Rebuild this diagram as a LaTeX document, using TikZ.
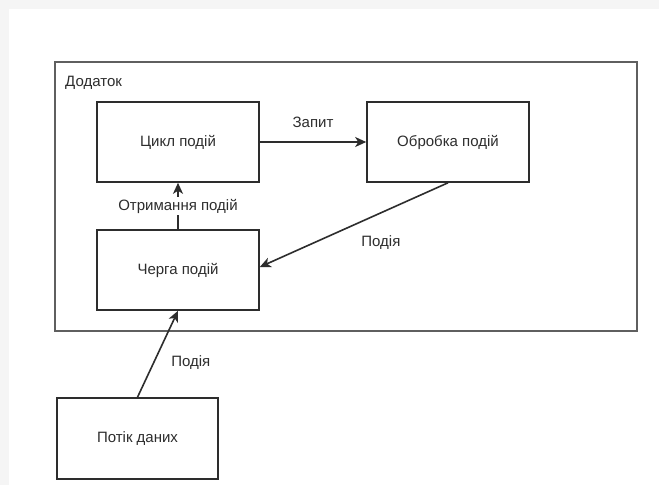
\documentclass[tikz,border=0pt]{standalone}
\usepackage{fontspec}
\setmainfont{Liberation Sans}
\usetikzlibrary{arrows.meta}
\definecolor{pagegray}{RGB}{245,245,245}
\definecolor{ink}{RGB}{45,45,45}
\definecolor{framegray}{RGB}{95,95,95}
\tikzset{
  block/.style={draw=ink, line width=1.6pt, fill=white, minimum width=162pt,
    minimum height=80pt, inner sep=0pt, font=\fontsize{15}{17}\selectfont, text=ink},
  flow/.style={draw=ink, line width=1.6pt,
    -{Stealth[length=11pt,width=10pt,inset=3pt]}},
  tag/.style={font=\fontsize{15}{17}\selectfont, text=ink, inner sep=1pt}
}
\begin{document}
\begin{tikzpicture}[x=1pt, y=-1pt]
  % page background with a light band along the top and left
  \fill[pagegray] (0,0) rectangle (659,485);
  \fill[white] (9,9) rectangle (659,485);
  \useasboundingbox (0,0) rectangle (659,485);

  % application container
  \draw[framegray, line width=2pt] (55,61.5) rectangle (636.5,330.5);
  \node[tag, anchor=west] (apptitle) at (64,83) {Додаток};

  % blocks
  \node[block] (loop)   at (178,142)   {Цикл подій};
  \node[block] (proc)   at (448,142)   {Обробка подій};
  \node[block] (queue)  at (178,270)   {Черга подій};
  \node[block, minimum width=161pt, minimum height=81pt] (stream) at (137.5,438.5) {Потік даних};

  % connectors
  \draw[flow] (loop.east) -- (proc.west)
    node[tag, midway, yshift=20pt] (lblreq) {Запит};
  \draw[flow] (proc.south) -- ([yshift=3pt]queue.east)
    node[tag, midway, xshift=27pt, yshift=-18pt] (lblev1) {Подія};
  \draw[flow] (queue.north) -- (loop.south)
    node[tag, midway, fill=white, inner sep=2pt] (lblget) {Отримання подій};
  \draw[flow] (stream.north) -- (queue.south)
    node[tag, midway, xshift=33pt, yshift=-9pt] (lblev2) {Подія};
\end{tikzpicture}
\end{document}
